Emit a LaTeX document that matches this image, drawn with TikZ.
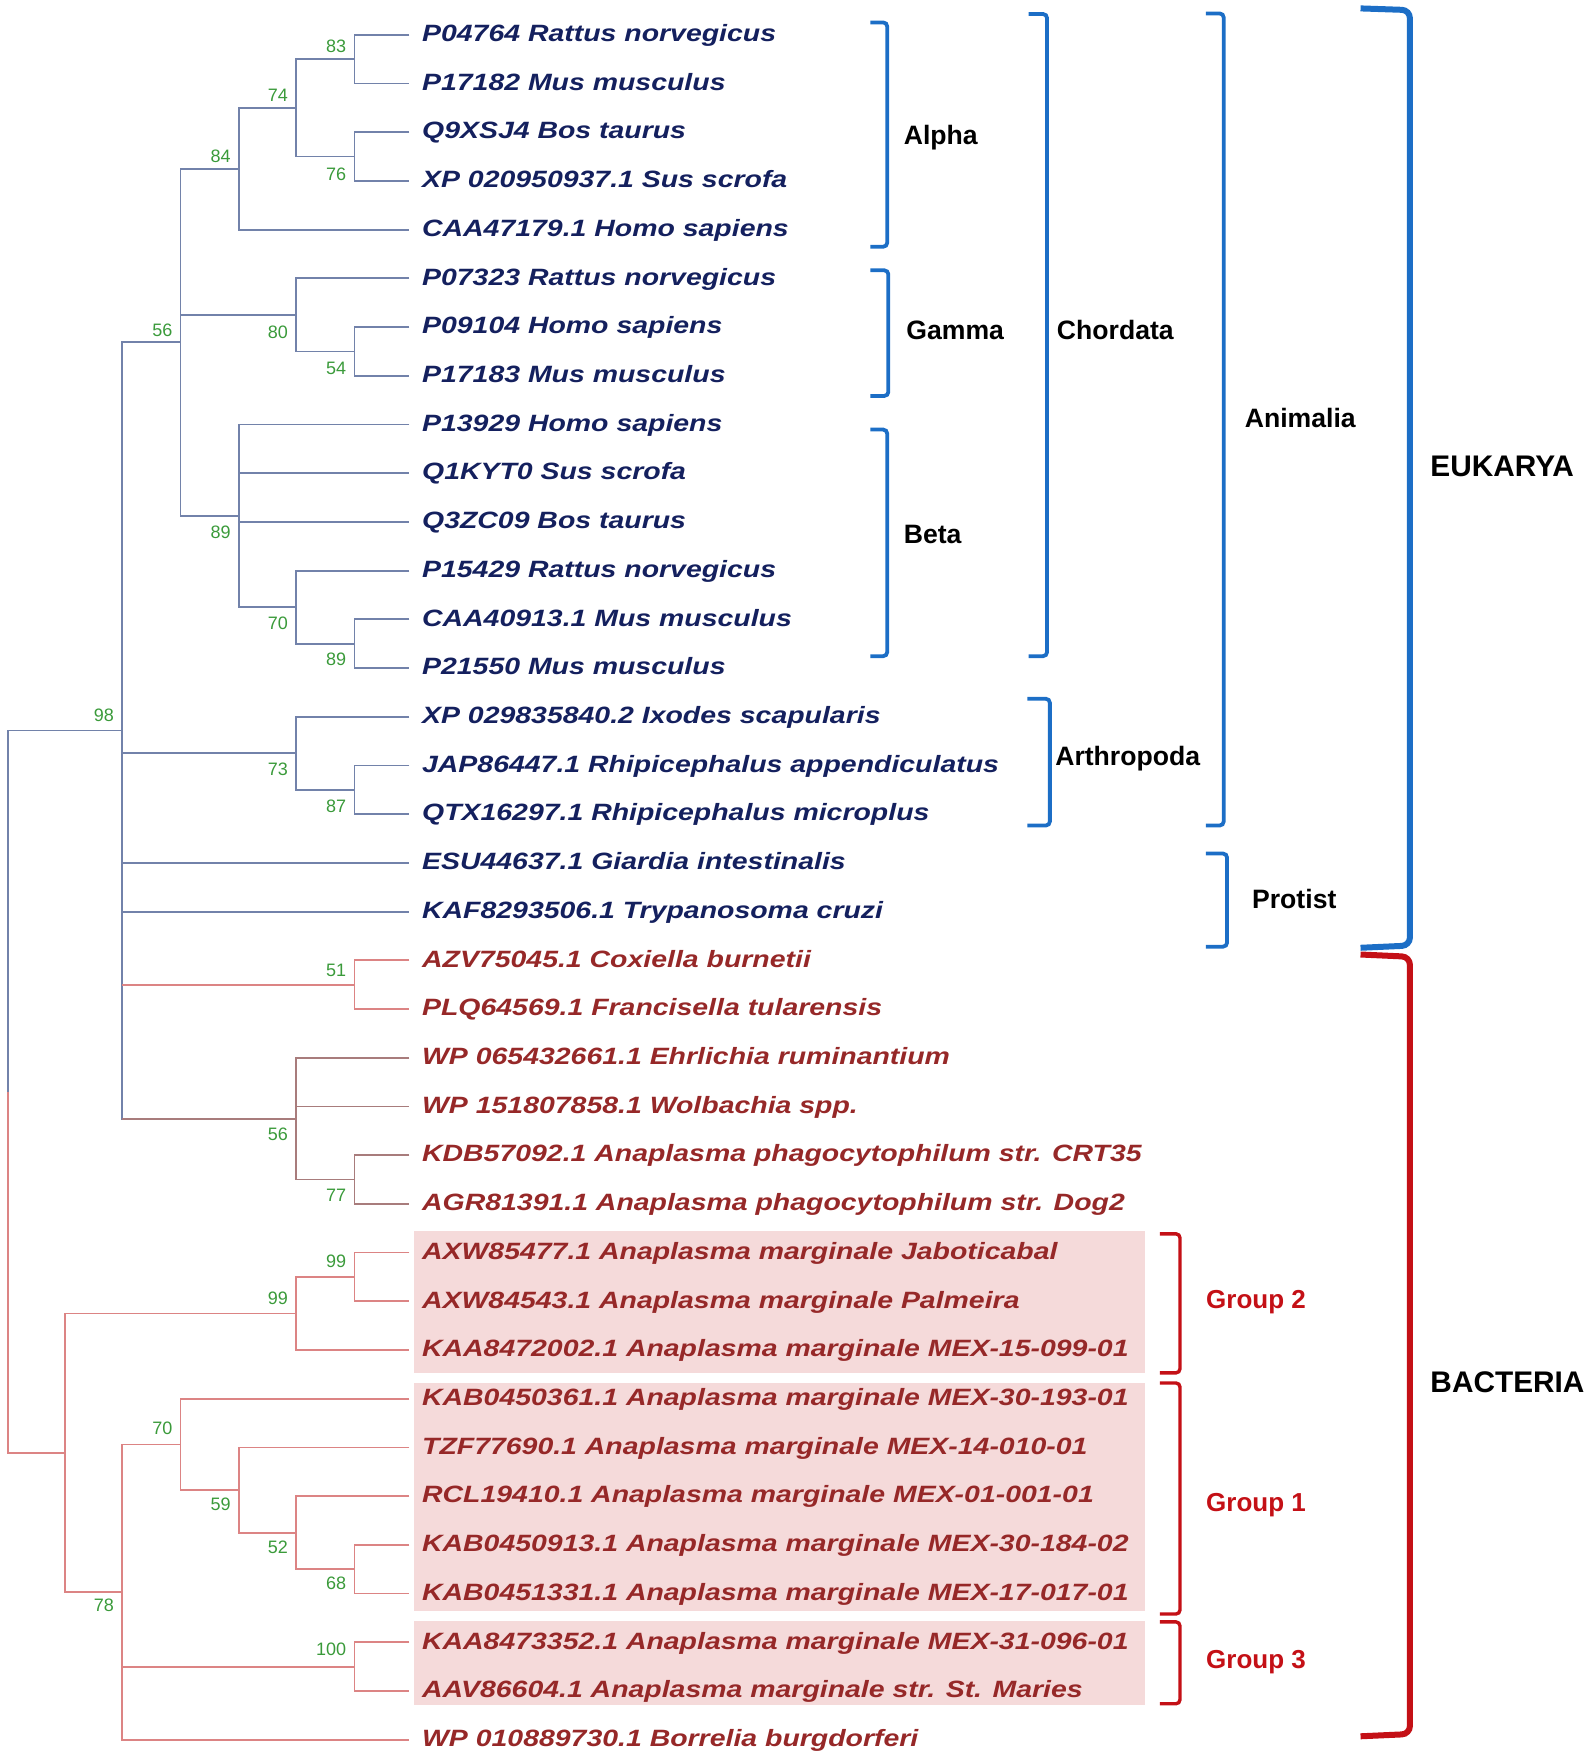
\documentclass[tikz,border=0pt]{standalone}
\usepackage{fontspec}
\setmainfont{Liberation Sans}
\newfontfamily\leaffont[FakeStretch=1.205]{Liberation Sans}
\definecolor{eukline}{HTML}{7282AA}
\definecolor{bacline}{HTML}{DC8484}
\definecolor{midline}{HTML}{A87C7C}
\definecolor{euktext}{HTML}{14205E}
\definecolor{bactext}{HTML}{962828}
\definecolor{bsgreen}{HTML}{3A9A3A}
\definecolor{brblue}{HTML}{1C6EC6}
\definecolor{brred}{HTML}{C41016}
\definecolor{grpfill}{HTML}{F5DADA}
\begin{document}
\begin{tikzpicture}[x=0.5608pt,y=-0.5608pt,
  eukl/.style={draw=eukline,line width=0.9pt},
  bacl/.style={draw=bacline,line width=0.9pt},
  midl/.style={draw=midline,line width=0.9pt},
  leaf/.style={inner sep=0pt,anchor=base west,font=\leaffont\bfseries\itshape\fontsize{11.8}{14}\selectfont},
  bs/.style={inner sep=0pt,anchor=base east,text=bsgreen,font=\fontsize{9}{10}\selectfont},
  brb/.style={draw=brblue,line width=1.9pt,rounded corners=2pt},
  brr/.style={draw=brred,line width=1.7pt,rounded corners=2pt},
  clab/.style={inner sep=0pt,anchor=base west,font=\bfseries\fontsize{13.3}{15}\selectfont},
  dlab/.style={inner sep=0pt,anchor=base west,font=\bfseries\fontsize{14.9}{17}\selectfont},
  glab/.style={inner sep=0pt,anchor=base west,text=brred,font=\bfseries\fontsize{13}{15}\selectfont}]
\useasboundingbox (0,0) rectangle (1422,1563.8);

% highlight boxes
\fill[grpfill] (369,1097.5) rectangle (1021,1224);
\fill[grpfill] (369,1233) rectangle (1021,1436);
\fill[grpfill] (369,1445) rectangle (1021,1520);

% leaves
\foreach \i/\t in {0/{P04764 Rattus norvegicus},1/{P17182 Mus musculus},2/{Q9XSJ4 Bos taurus},
  3/{XP 020950937.1 Sus scrofa},4/{CAA47179.1 Homo sapiens},5/{P07323 Rattus norvegicus},
  6/{P09104 Homo sapiens},7/{P17183 Mus musculus},8/{P13929 Homo sapiens},9/{Q1KYT0 Sus scrofa},
  10/{Q3ZC09 Bos taurus},11/{P15429 Rattus norvegicus},12/{CAA40913.1 Mus musculus},
  13/{P21550 Mus musculus},14/{XP 029835840.2 Ixodes scapularis},
  15/{JAP86447.1 Rhipicephalus appendiculatus},16/{QTX16297.1 Rhipicephalus microplus},
  17/{ESU44637.1 Giardia intestinalis},18/{KAF8293506.1 Trypanosoma cruzi}}{
  \coordinate (t\i) at (365,{31+43.43*\i});
  \node[leaf,text=euktext] (L\i) at (376,{37+43.43*\i}) {\t};
}
\foreach \i/\t in {19/{AZV75045.1 Coxiella burnetii},20/{PLQ64569.1 Francisella tularensis},
  21/{WP 065432661.1 Ehrlichia ruminantium},22/{WP 151807858.1 Wolbachia spp.},
  23/{KDB57092.1 Anaplasma phagocytophilum str. CRT35},24/{AGR81391.1 Anaplasma phagocytophilum str. Dog2},
  25/{AXW85477.1 Anaplasma marginale Jaboticabal},26/{AXW84543.1 Anaplasma marginale Palmeira},
  27/{KAA8472002.1 Anaplasma marginale MEX-15-099-01},28/{KAB0450361.1 Anaplasma marginale MEX-30-193-01},
  29/{TZF77690.1 Anaplasma marginale MEX-14-010-01},30/{RCL19410.1 Anaplasma marginale MEX-01-001-01},
  31/{KAB0450913.1 Anaplasma marginale MEX-30-184-02},32/{KAB0451331.1 Anaplasma marginale MEX-17-017-01},
  33/{KAA8473352.1 Anaplasma marginale MEX-31-096-01},34/{AAV86604.1 Anaplasma marginale str. St. Maries},
  35/{WP 010889730.1 Borrelia burgdorferi}}{
  \coordinate (t\i) at (365,{31+43.43*\i});
  \node[leaf,text=bactext] (L\i) at (376,{37+43.43*\i}) {\t};
}

% internal nodes
\coordinate (n83) at (316,52.7);
\coordinate (n76) at (316,139.6);
\coordinate (n74) at (264,96.1);
\coordinate (n84) at (213,150.4);
\coordinate (n54) at (316,313.3);
\coordinate (n80) at (264,280.7);
\coordinate (n89i) at (316,573.9);
\coordinate (n70) at (264,541.3);
\coordinate (n89) at (213,459.9);
\coordinate (n56) at (161,305.1);
\coordinate (n87) at (316,704.2);
\coordinate (n73) at (264,671.6);
\coordinate (n51) at (316,877.9);
\coordinate (n77) at (316,1051.6);
\coordinate (n56b) at (264,997.3);
\coordinate (n98) at (109,651.2);
\coordinate (n99i) at (316,1138.5);
\coordinate (n99o) at (264,1171.0);
\coordinate (n68) at (316,1399.0);
\coordinate (n52) at (264,1366.5);
\coordinate (n59) at (213,1328.5);
\coordinate (n70b) at (161,1287.8);
\coordinate (n100) at (316,1485.9);
\coordinate (n78) at (109,1419.4);
\coordinate (nr2) at (58,1295.2);
\coordinate (root) at (7,973.2);

% eukaryote branches
\draw[eukl] (t0) -| (n83) |- (t1);
\draw[eukl] (t2) -| (n76) |- (t3);
\draw[eukl] (n83) -| (n74) |- (n76);
\draw[eukl] (n74) -| (n84) |- (t4);
\draw[eukl] (t6) -| (n54) |- (t7);
\draw[eukl] (t5) -| (n80) |- (n54);
\draw[eukl] (t12) -| (n89i) |- (t13);
\draw[eukl] (t11) -| (n70) |- (n89i);
\draw[eukl] (t8) -| (n89) |- (n70);
\draw[eukl] (n89 |- t9) -- (t9);
\draw[eukl] (n89 |- t10) -- (t10);
\draw[eukl] (n84) -| (n56) |- (n89);
\draw[eukl] (n56 |- n80) -- (n80);
\draw[eukl] (t15) -| (n87) |- (t16);
\draw[eukl] (t14) -| (n73) |- (n87);
\draw[eukl] (n56) -| (n98) |- (n56b);
\draw[eukl] (n98 |- n73) -- (n73);
\draw[eukl] (n98 |- t17) -- (t17);
\draw[eukl] (n98 |- t18) -- (t18);
\draw[eukl] (n98) -| (root);
% bacteria inside the 98 clade
\draw[bacl] (n98 |- n51) -- (n51);
\draw[bacl] (t19) -| (n51) |- (t20);
\draw[midl] (n98 |- n56b) -- (n56b);
\draw[midl] (t21) -| (n56b) |- (n77);
\draw[midl] (n56b |- t22) -- (t22);
\draw[midl] (t23) -| (n77) |- (t24);
% bacteria clade
\draw[bacl] (root) |- (nr2);
\draw[bacl] (n99o) -| (nr2) |- (n78);
\draw[bacl] (t25) -| (n99i) |- (t26);
\draw[bacl] (n99i) -| (n99o) |- (t27);
\draw[bacl] (t31) -| (n68) |- (t32);
\draw[bacl] (t30) -| (n52) |- (n68);
\draw[bacl] (t29) -| (n59) |- (n52);
\draw[bacl] (t28) -| (n70b) |- (n59);
\draw[bacl] (t33) -| (n100) |- (t34);
\draw[bacl] (n70b) -| (n78) |- (t35);
\draw[bacl] (n78 |- n100) -- (n100);

% bootstrap values
\node[bs] (b83) at (309,47) {83};
\node[bs] (b74) at (257,90.5) {74};
\node[bs] (b84) at (206,145) {84};
\node[bs] (b76) at (309,160.5) {76};
\node[bs] (b56) at (154,299.6) {56};
\node[bs] (b80) at (257,301.5) {80};
\node[bs] (b54) at (309,334) {54};
\node[bs] (b89) at (206,480) {89};
\node[bs] (b70) at (257,561.6) {70};
\node[bs] (b89i) at (309,593.7) {89};
\node[bs] (b98) at (102,643.4) {98};
\node[bs] (b73) at (257,691.5) {73};
\node[bs] (b87) at (309,724) {87};
\node[bs] (b51) at (309,870.7) {51};
\node[bs] (b56b) at (257,1017) {56};
\node[bs] (b77) at (309,1071) {77};
\node[bs] (b99i) at (309,1129.7) {99};
\node[bs] (b99o) at (257,1162.6) {99};
\node[bs] (b70b) at (154,1278.7) {70};
\node[bs] (b59) at (206,1346.8) {59};
\node[bs] (b52) at (257,1384.7) {52};
\node[bs] (b68) at (309,1417.5) {68};
\node[bs] (b78) at (102,1436.8) {78};
\node[bs] (b100) at (309,1476.3) {100};

% brackets
\draw[brb] (776,20) -- (791,20) -- (791,220) -- (776,220);
\draw[brb] (776,241) -- (792,241) -- (792,353) -- (776,353);
\draw[brb] (776,383) -- (791,383) -- (791,585) -- (776,585);
\draw[brb] (917,12.5) -- (933.5,12.5) -- (933.5,585) -- (917,585);
\draw[brb] (916,623) -- (936,623) -- (936,736) -- (916,736);
\draw[brb] (1075,12) -- (1091,12) -- (1091,736) -- (1075,736);
\draw[brb] (1075,761) -- (1094,761) -- (1094,844) -- (1075,844);
\draw[draw=brblue,line width=3pt,rounded corners=4pt] (1213,7.5) -- (1257,9) -- (1257,843) -- (1213,845);
\draw[draw=brred,line width=3pt,rounded corners=4pt] (1213,851) -- (1257,853) -- (1257,1546) -- (1213,1548);
\draw[brr] (1034,1100) -- (1052,1100) -- (1052,1224) -- (1034,1224);
\draw[brr] (1034,1233) -- (1052,1233) -- (1052,1439) -- (1034,1439);
\draw[brr] (1034,1446) -- (1052,1446) -- (1052,1519) -- (1034,1519);

% bracket labels
\node[clab] (alpha) at (805.5,128.4) {Alpha};
\node[clab] (gamma) at (807.8,303) {Gamma};
\node[clab] (beta) at (805.5,484.4) {Beta};
\node[clab] (chordata) at (942,303) {Chordata};
\node[clab] (arthropoda) at (940.5,682.6) {Arthropoda};
\node[clab] (animalia) at (1109.5,381) {Animalia};
\node[clab] (protist) at (1116,809.6) {Protist};
\node[dlab] (eukarya) at (1275,425) {EUKARYA};
\node[dlab] (bacteria) at (1275,1241.6) {BACTERIA};
\node[glab] (g2) at (1075,1166.4) {Group 2};
\node[glab] (g1) at (1075,1347.6) {Group 1};
\node[glab] (g3) at (1075,1487.3) {Group 3};
\end{tikzpicture}
\end{document}
